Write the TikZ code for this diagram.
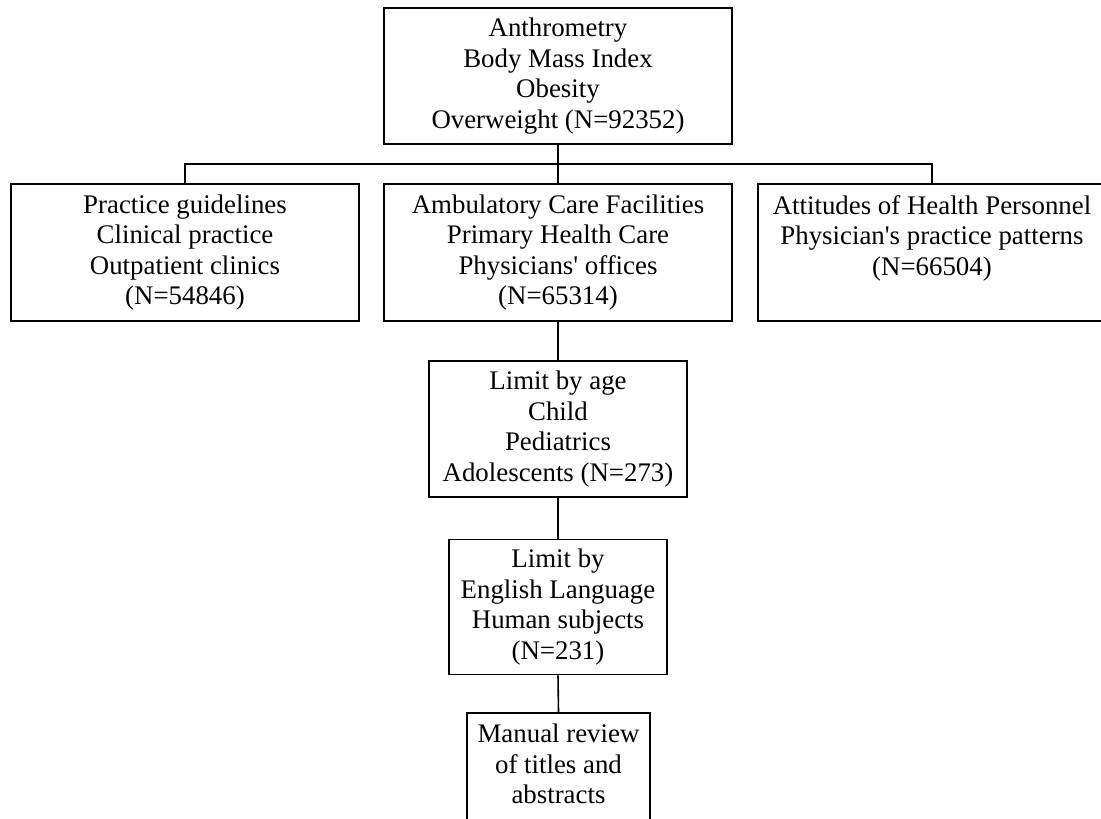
\documentclass[tikz,border=0pt]{standalone}
\usepackage{fontspec}
\setmainfont{Liberation Serif}[Ligatures=TeXOff]
\begin{document}
\begin{tikzpicture}[x=1pt,y=-1pt,
  box/.style={draw, line width=1.6pt, inner sep=0pt, align=center,
    font=\fontsize{26.85pt}{30.5pt}\selectfont},
  txt/.style={inner sep=0pt, align=center,
    font=\fontsize{26.85pt}{30.5pt}\selectfont},
  link/.style={line width=1.6pt}]
\useasboundingbox[fill=white] (0,0) rectangle (1101,819);
\node[box, minimum width=348pt, minimum height=136pt] (top) at (558,76)
  {Anthrometry\\Body Mass Index\\Obesity\\Overweight (N=92352)};
\node[box, minimum width=348pt, minimum height=137pt] (left) at (185,252.5)
  {Practice guidelines\\Clinical practice\\Outpatient clinics\\(N=54846)};
\node[box, minimum width=348pt, minimum height=137pt] (mid) at (558,252.5)
  {Ambulatory Care Facilities\\Primary Health Care\\Physicians' offices\\(N=65314)};
\node[box, minimum width=348pt, minimum height=137pt] (right) at (932,252.5) {};
\node[txt] (righttext) at (932,238)
  {Attitudes of Health Personnel\\Physician's practice patterns\\(N=66504)};
\node[box, minimum width=258pt, minimum height=136pt] (age) at (558,429)
  {Limit by age\\Child\\Pediatrics\\Adolescents (N=273)};
\node[box, minimum width=218pt, minimum height=135pt] (eng) at (558,607)
  {Limit by\\English Language\\Human subjects\\(N=231)};
\node[box, minimum width=183pt, minimum height=137pt] (man) at (558.5,781.5) {};
\node[txt] (mantext) at (558.5,764)
  {Manual review\\of titles and\\abstracts};
\coordinate (bus) at (558,164);
\draw[link] (top.south) -- (mid.north);
\draw[link] (left.north) |- (bus) -| (right.north);
\draw[link] (mid.south) -- (age.north);
\draw[link] (age.south) -- (eng.north);
\draw[link] (eng.south) -- (man.north);
\end{tikzpicture}
\end{document}
